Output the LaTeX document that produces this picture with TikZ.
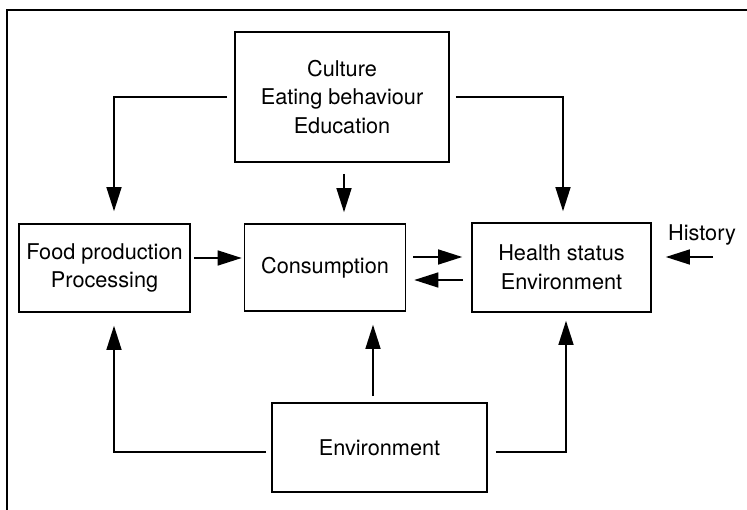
\documentclass[tikz,border=0pt]{standalone}
\usepackage{fontspec}
\setmainfont{TeX Gyre Heros}
\usetikzlibrary{arrows.meta}

\begin{document}
\begin{tikzpicture}[x=1pt, y=-1pt,
  font=\fontsize{21.7}{28.5}\selectfont,
  box/.style={draw, line width=1.6pt, align=center, inner sep=0pt},
  arr/.style={line width=1.4pt, -{Triangle[length=24pt,width=15pt]}}]
  \useasboundingbox (0,0) rectangle (747,510);
  \draw[line width=1.8pt] (7,510) -- (7,10) -- (747,10);

  \node (cult) [box, minimum width=214pt, minimum height=130pt] at (342,97) {Culture\\ Eating behaviour\\ Education};
  \node (food) [box, minimum width=171pt, minimum height=88pt] at (104.5,268) {Food production\\ Processing};
  \node (cons) [box, minimum width=161pt, minimum height=87pt] at (325,267.5) {Consumption};
  \node (hlth) [box, minimum width=179pt, minimum height=89pt] at (561.5,267.5) {Health status\\ Environment};
  \node (env)  [box, minimum width=215pt, minimum height=89pt] at (379.5,447.5) {Environment};
  \node (hist) at (702,235) {History};

  \draw[arr] ([xshift=-7pt]cult.west) -| ([xshift=9.5pt,yshift=12pt]food.north);
  \draw[arr] ([xshift=6pt]cult.east) -| ([xshift=1.5pt,yshift=11pt]hlth.north);
  \draw[arr] ([xshift=2pt,yshift=-11pt]cult.south) -- ([xshift=19pt,yshift=11pt]cons.north);
  \draw[arr] ([xshift=3pt,yshift=10pt]food.east) -- ([xshift=-2pt,yshift=9.5pt]cons.west);
  \draw[arr] ([xshift=7pt,yshift=10.5pt]cons.east) -- ([xshift=-9pt,yshift=10.5pt]hlth.west);
  \draw[arr] ([xshift=-8pt,yshift=-12.5pt]hlth.west) -- ([xshift=8pt,yshift=-12.5pt]cons.east);
  \draw[arr] ([xshift=11pt,yshift=-22pt]hist.center) -- ([xshift=14pt,yshift=10.5pt]hlth.east);
  \draw[arr] ([xshift=-6.5pt,yshift=6pt]env.north) -- ([xshift=48pt,yshift=-13pt]cons.south);
  \draw[arr] ([xshift=-5pt,yshift=-4.5pt]env.west) -| ([xshift=9.5pt,yshift=-13pt]food.south);
  \draw[arr] ([xshift=8pt,yshift=-4.5pt]env.east) -| ([xshift=4.5pt,yshift=-8pt]hlth.south);
\end{tikzpicture}
\end{document}
